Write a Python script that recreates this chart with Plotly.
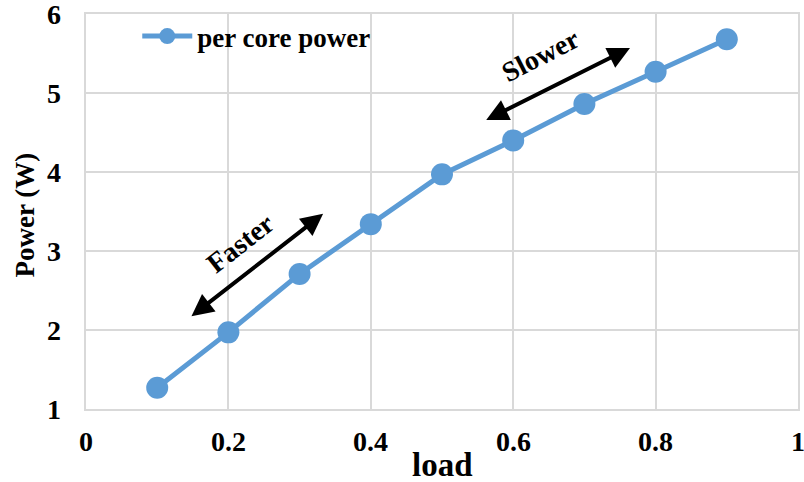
import plotly.graph_objects as go

load = [0.1, 0.2, 0.3, 0.4, 0.5, 0.6, 0.7, 0.8, 0.9]
power = [1.27, 1.97, 2.71, 3.34, 3.97, 4.40, 4.86, 5.27, 5.68]
x_ticks = [0, 0.2, 0.4, 0.6, 0.8, 1]
x_labels = ["0", "0.2", "0.4", "0.6", "0.8", "1"]
y_ticks = [1, 2, 3, 4, 5, 6]
y_labels = ["1", "2", "3", "4", "5", "6"]

# annotation arrows (data coords): (x_start, y_start, x_end, y_end)
faster_arrow = (0.146, 2.16, 0.333, 3.47)
slower_arrow = (0.560, 4.65, 0.764, 5.57)

FONT = "Liberation Serif"
BLUE = "#5B9BD5"
GRID = "#d9d9d9"

fig = go.Figure()
fig.add_trace(go.Scatter(
    x=load, y=power, mode="lines+markers", name="<b>per core power</b>",
    line=dict(color=BLUE, width=5),
    marker=dict(color=BLUE, size=22),
))

for (x0, y0, x1, y1) in [faster_arrow, slower_arrow]:
    fig.add_annotation(
        x=x1, y=y1, ax=x0, ay=y0, xref="x", yref="y", axref="x", ayref="y",
        text="", showarrow=True, arrowhead=2, startarrowhead=2,
        arrowside="end+start", arrowwidth=4, arrowsize=1.1, startarrowsize=1.1,
        arrowcolor="black",
    )

fig.add_annotation(x=0.216, y=3.10, xref="x", yref="y", text="<b>Faster</b>",
                   showarrow=False, textangle=-38,
                   font=dict(family=FONT, size=28, color="black"))
fig.add_annotation(x=0.638, y=5.48, xref="x", yref="y", text="<b>Slower</b>",
                   showarrow=False, textangle=-27,
                   font=dict(family=FONT, size=28, color="black"))

# tick labels as annotations (so edge labels are not dropped)
for v, t in zip(x_ticks, x_labels):
    fig.add_annotation(x=v, y=0, xref="x", yref="paper", text=f"<b>{t}</b>",
                       showarrow=False, xanchor="center", yanchor="middle", yshift=-32,
                       font=dict(family=FONT, size=28, color="black"))
for v, t in zip(y_ticks, y_labels):
    fig.add_annotation(x=0, y=v, xref="paper", yref="y", text=f"<b>{t}</b>",
                       showarrow=False, xanchor="right", yanchor="middle", xshift=-23,
                       font=dict(family=FONT, size=28, color="black"))

# axis titles
fig.add_annotation(x=0.5, y=0, xref="paper", yref="paper", text="<b>load</b>",
                   showarrow=False, xanchor="center", yanchor="middle", yshift=-56,
                   font=dict(family=FONT, size=33, color="black"))
fig.add_annotation(x=0, y=0.49, xref="paper", yref="paper", text="<b>Power (W)</b>",
                   showarrow=False, xanchor="center", yanchor="middle", xshift=-61,
                   textangle=-90, font=dict(family=FONT, size=27, color="black"))

fig.update_layout(
    width=804, height=482,
    margin=dict(l=86, r=6, t=14, b=73, autoexpand=False),
    paper_bgcolor="white", plot_bgcolor="white",
    font=dict(family=FONT, size=27, color="black"),
    showlegend=True,
    legend=dict(x=0.072, y=1.005, xanchor="left", yanchor="top",
                bgcolor="rgba(0,0,0,0)", font=dict(family=FONT, size=27),
                itemwidth=50),
    xaxis=dict(range=[0, 1], tickvals=x_ticks, showticklabels=False, automargin=False,
               showgrid=True, gridcolor=GRID, gridwidth=1.5,
               showline=True, linecolor=GRID, linewidth=1.5, mirror=True,
               zeroline=False, ticks=""),
    yaxis=dict(range=[1, 6], tickvals=y_ticks, showticklabels=False, automargin=False,
               showgrid=True, gridcolor=GRID, gridwidth=1.5,
               showline=True, linecolor=GRID, linewidth=1.5, mirror=True,
               zeroline=False, ticks=""),
)

fig.write_html("out.html")
